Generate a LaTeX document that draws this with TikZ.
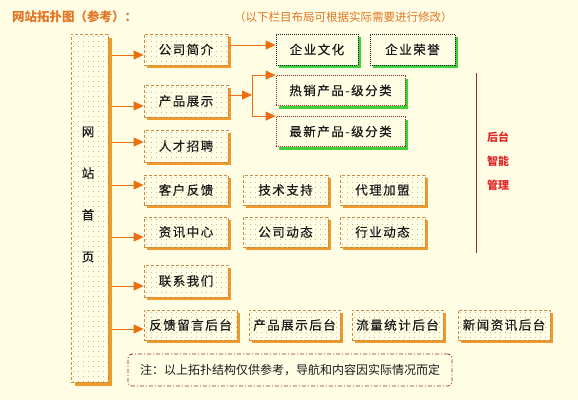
\documentclass[tikz,border=0pt]{standalone}
\usepackage{fontspec}
\setmainfont{Noto Sans CJK SC}
\newfontfamily\boxfont{Noto Sans CJK SC}[LetterSpace=12,FakeBold=0.4]
\usepackage{tikz}
\usetikzlibrary{arrows.meta,shadows}
\definecolor{TPBg}{HTML}{FFFDE4}
\definecolor{TPOrange}{HTML}{EC6E10}
\definecolor{TPEdge}{HTML}{C98A45}
\definecolor{TPShade}{HTML}{EE9A2C}
\definecolor{TPGreen}{HTML}{3FD13A}
\definecolor{TPDot}{HTML}{A89A80}
\definecolor{TPRed}{HTML}{E0282A}
\definecolor{TPWine}{HTML}{9A2B2B}
\definecolor{TPInk}{HTML}{1A1A1A}
\definecolor{TPTitle}{HTML}{E27524}
% grid of small dots inside a box
\newcommand{\tpdots}{%
  \pgfpointdiff{\pgfpointanchor{path picture bounding box}{south west}}%
               {\pgfpointanchor{path picture bounding box}{north east}}%
  \pgfgetlastxy{\tpboxw}{\tpboxh}%
  \pgfmathtruncatemacro\tpnx{\tpboxw/5}%
  \pgfmathtruncatemacro\tpny{\tpboxh/5}%
  \fill[TPDot] foreach \i in {0,...,\tpnx} {foreach \j in {0,...,\tpny}
    {([xshift=\i*5pt+2.5pt,yshift=-\j*5pt-2.5pt]path picture bounding box.north west) circle (0.45pt)}};%
}
\tikzset{
  arr/.style={-{Triangle[length=10pt,width=9pt]},TPOrange,line width=1pt},
  forkline/.style={TPOrange,line width=1pt},
  boxtext/.style={text=TPInk,font=\boxfont\fontsize{12.5}{14}\selectfont,inner sep=0pt,
                  minimum height=31pt},
  dotbox/.style={boxtext,draw=TPEdge,dash pattern=on 3pt off 2pt,line width=0.8pt,fill=TPBg,
                 drop shadow={shadow xshift=#1,shadow yshift=-#1,fill=TPShade,opacity=1},
                 path picture={\tpdots}},
  dotbox/.default=3pt,
  greenbox/.style={boxtext,draw=#1,dash pattern=on 1pt off 1pt,line width=0.8pt,fill=TPBg,
                   drop shadow={shadow xshift=3pt,shadow yshift=-3pt,fill=TPGreen,opacity=1}},
  greenbox/.default=TPInk,
  notebox/.style={draw=TPWine,line width=0.8pt,dash pattern=on 4pt off 2pt on 1pt off 2pt,
                  rounded corners=4pt,text=TPInk,font=\fontsize{12}{14}\selectfont},
  title/.style={text=TPTitle,font=\fontsize{12.5}{14}\selectfont\bfseries,anchor=west,inner sep=0pt},
  subtitle/.style={text=TPTitle,font=\fontsize{11.5}{14}\selectfont,anchor=west,inner sep=0pt},
}

\begin{document}
\begin{tikzpicture}[x=1pt,y=-1pt]
    \fill[TPBg] (0,0) rectangle (578,400);
    \useasboundingbox (0,0) rectangle (578,400);

    % heading
    \node[title] (head) at (12,17) {网站拓扑图（参考）：};
    \node[subtitle] (hint) at (234,17) {（以下栏目布局可根据实际需要进行修改）};

    % home page column
    \node[dotbox=4pt,minimum width=37pt,minimum height=348pt] (home) at (89.5,208) {};
    \node[text=TPInk,font=\boxfont\fontsize{12.5}{41.7}\selectfont,align=center] (hometxt) at (88,194.5)
      {网\\站\\首\\页};
    \coordinate (spine) at (112,0);

    % first level
    \node[dotbox,minimum width=84pt] (gsjj) at (186,49.5) {公司简介};
    \node[dotbox,minimum width=84pt,minimum height=32pt] (cpzs) at (186,101) {产品展示};
    \node[dotbox,minimum width=84pt,minimum height=32pt] (rczp) at (186,146) {人才招聘};
    \node[dotbox,minimum width=84pt,minimum height=30pt] (khfk) at (186,190) {客户反馈};
    \node[dotbox,minimum width=84pt,minimum height=30pt] (zxzx) at (186,232) {资讯中心};
    \node[dotbox,minimum width=84pt,minimum height=32pt] (lxwm) at (186,281) {联系我们};
    \node[dotbox,minimum width=93pt,minimum height=30pt] (fklh) at (190.5,325) {反馈留言后台};

    \foreach \n/\s in {gsjj/-5.5,cpzs/-5,rczp/4,khfk/5,zxzx/-5,lxwm/-5,fklh/-4}{
      \path ([yshift=\s pt]\n.west) coordinate (tip);
      \draw[arr] (spine |- tip) -- (tip);
    }

    % company pages
    \node[greenbox,minimum width=82pt] (qywh) at (317,49.5) {企业文化};
    \node[greenbox,minimum width=85pt] (qyry) at (412.5,49.5) {企业荣誉};
    \draw[arr] ([yshift=4.5pt]gsjj.east) -- ([yshift=4.5pt]qywh.west);

    % product categories
    \node[greenbox=TPWine,minimum width=129pt,minimum height=30pt] (rxcp) at (340.5,90.5) {热销产品-级分类};
    \node[greenbox=TPWine,minimum width=129pt,minimum height=30pt] (zxcp) at (340.5,131.5) {最新产品-级分类};
    \coordinate (fork) at (252,95);
    \draw[arr] ([yshift=6pt]cpzs.east) -- (fork);
    \draw[forkline] (fork |- rxcp.north west) -- (fork |- zxcp.north west);
    \draw[arr] (fork |- rxcp.north west) -- (rxcp.north west);
    \draw[arr] (fork |- zxcp.north west) -- (zxcp.north west);

    % side pages
    \node[dotbox,minimum width=85pt,minimum height=30pt] (jszc) at (285.5,190) {技术支持};
    \node[dotbox,minimum width=85pt,minimum height=30pt] (dljm) at (382.5,190) {代理加盟};
    \node[dotbox,minimum width=85pt,minimum height=30pt] (gsdt) at (285.5,232) {公司动态};
    \node[dotbox,minimum width=85pt,minimum height=30pt] (hydt) at (382.5,232) {行业动态};

    % back office
    \node[dotbox,minimum width=91pt,minimum height=30pt] (cpht) at (294.5,325) {产品展示后台};
    \node[dotbox,minimum width=91pt,minimum height=30pt] (llht) at (397.5,325) {流量统计后台};
    \node[dotbox,minimum width=92pt,minimum height=30pt] (xwht) at (504,325) {新闻资讯后台};
    \draw[TPWine,line width=1pt] (476,73) -- (476,253);
    \node[text=TPRed,font=\fontsize{11}{24}\selectfont\bfseries,align=center] (mgr) at (498,161) {后台\\智能\\管理};

    % note
    \node[notebox,minimum width=324pt,minimum height=32pt] (note) at (290,370)
      {注：以上拓扑结构仅供参考，导航和内容因实际情况而定};
\end{tikzpicture}
\end{document}
